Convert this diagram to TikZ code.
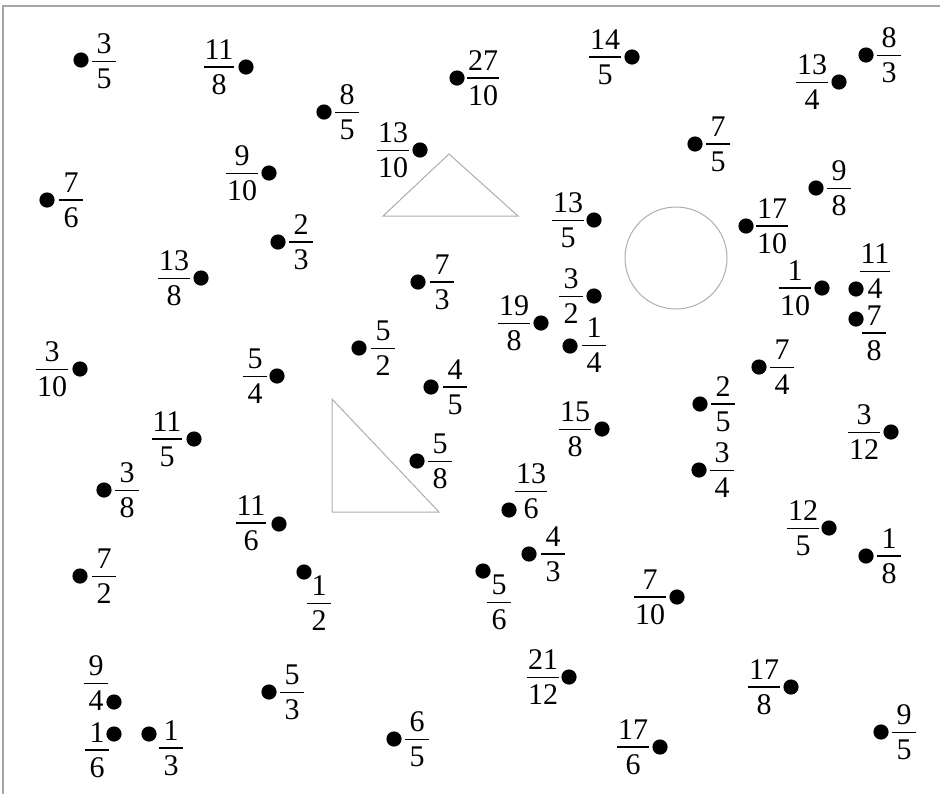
\documentclass[tikz,border=0pt]{standalone}
\usepackage{fontspec}
\setmainfont{Liberation Serif}
\newdimen\frw
\newcommand\fr[2]{%
  \setbox0\hbox{#1}\setbox2\hbox{#2}%
  \frw=\wd0 \ifdim\wd2>\frw \frw=\wd2\fi
  \advance\frw by 1pt
  \ifdim\frw<12pt \frw=12pt\fi
  \vbox{\offinterlineskip
    \hbox to\frw{\hss\box0\hss}%
    \kern 3.6pt
    \hrule height 0.8pt
    \kern\dimexpr 13.1pt-\ht2\relax
    \hbox to\frw{\hss\box2\hss}}}
\tikzset{
  dotmark/.style={circle,fill=black,inner sep=0pt,minimum size=7.6pt},
  fraclabel/.style={inner sep=0pt,font=\fontsize{15}{18}\selectfont},
  shapeline/.style={draw=black!32,line width=0.5pt},
  frameline/.style={draw=black!35,line width=0.6pt}
}
\begin{document}
\begin{tikzpicture}[x=0.5pt,y=-0.5pt]
\useasboundingbox (0,0) rectangle (940,794);
\draw[frameline] (3,794) -- (3,6) -- (940,6);
% shapes
\draw[shapeline] (449,154) -- (518,216) -- (383,216) -- cycle;
\draw[shapeline] (332,399) -- (439,512) -- (332,512) -- cycle;
\draw[shapeline] (676,258) circle[radius=25.5pt];
% dots and labels
\foreach \dx/\dy/\lx/\ly/\nu/\de [count=\i] in {
 81/60/104/61/3/5,
 246/67/219/67/11/8,
 324/112/347/112/8/5,
 420/150/393/150/13/10,
 457/78/483/78/27/10,
 269/173/242/173/9/10,
 47/200/71/200/7/6,
 278/242/301/242/2/3,
 201/278/174/278/13/8,
 418/282/442/282/7/3,
 80/369/52/369/3/10,
 277/376/255/376/5/4,
 359/348/383/348/5/2,
 431/387/455/387/4/5,
 632/57/605/57/14/5,
 839/82/812/82/13/4,
 866/55/889/55/8/3,
 695/144/718/144/7/5,
 816/188/839/188/9/8,
 594/220/568/220/13/5,
 746/226/772/226/17/10,
 822/288/795/288/1/10,
 856/289/875/271/11/4,
 856/319/874/333/7/8,
 594/296/571/296/3/2,
 541/323/514/323/19/8,
 570/346/594/345/1/4,
 759/367/782/367/7/4,
 700/404/723/404/2/5,
 602/429/575/429/15/8,
 891/432/864/432/3/12,
 699/470/722/470/3/4,
 509/510/531/491/13/6,
 829/528/803/528/12/5,
 529/554/553/554/4/3,
 866/556/889/556/1/8,
 483/571/499/602/5/6,
 677/597/650/597/7/10,
 569/677/543/677/21/12,
 791/687/764/687/17/8,
 881/732/904/732/9/5,
 660/747/633/747/17/6,
 194/439/167/439/11/5,
 417/461/440/461/5/8,
 104/490/127/490/3/8,
 279/524/251/523/11/6,
 80/576/104/576/7/2,
 304/572/319/603/1/2,
 114/702/96/683/9/4,
 269/692/292/692/5/3,
 114/734/97/750/1/6,
 149/734/171/748/1/3,
 394/739/417/739/6/5}{
  \node[dotmark] (d\i) at (\dx,\dy) {};
  \node[fraclabel] (l\i) at (\lx,\ly) {\fr{\nu}{\de}};
}
\end{tikzpicture}
\end{document}
